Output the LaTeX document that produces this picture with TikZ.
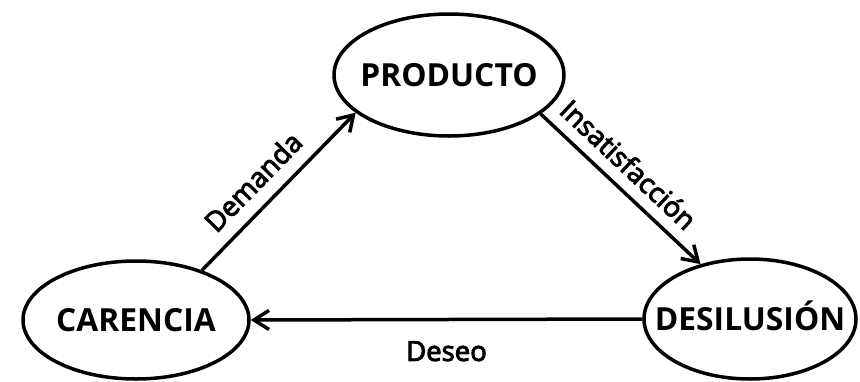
\documentclass[tikz,border=0pt]{standalone}
\usepackage{fontspec}
\setmainfont{Open Sans}
\newfontfamily\labelfont{Open Sans}[FakeBold=3.5]
\usetikzlibrary{arrows.meta,shapes.geometric}
\begin{document}
\begin{tikzpicture}[x=1pt,y=-1pt,
  stage/.style={draw, ellipse, line width=3.5pt, inner sep=0pt,
    minimum width=#1, font=\fontsize{31.8}{31.8}\selectfont\bfseries,
    text height=22.7pt, text depth=0pt},
  flow/.style={line width=3.5pt, -{Straight Barb[length=15pt,width=19pt,line width=3.5pt]}},
  flowlabel/.style={font=\labelfont\fontsize{27.5}{27.5}\selectfont, inner sep=0pt}]
  \useasboundingbox (0,0) rectangle (860,381);

  % the three stages of the cycle
  \node[stage=230pt, minimum height=122pt] (prod) at (449,75) {\makebox[0pt]{PRODUCTO}};
  \node[stage=226pt, minimum height=118pt] (car)  at (136,320) {\makebox[0pt]{CARENCIA}};
  \node[stage=212pt, minimum height=120pt] (des)  at (750,319) {\makebox[0pt]{DESILUSIÓN}};

  % transitions between stages
  \draw[flow] (car.37) -- (prod.202.5)
    node[flowlabel, pos=0.45, sloped, above=13pt] (lbl-dem) {Demanda};
  \draw[flow] (prod.-23) -- (des.132)
    node[flowlabel, pos=0.45, sloped, above=11pt] (lbl-ins) {Insatisfacción};
  \draw[flow] (des.west) -- (car.east)
    node[flowlabel, pos=0.5, below=20pt] (lbl-des) {Deseo};
\end{tikzpicture}
\end{document}
